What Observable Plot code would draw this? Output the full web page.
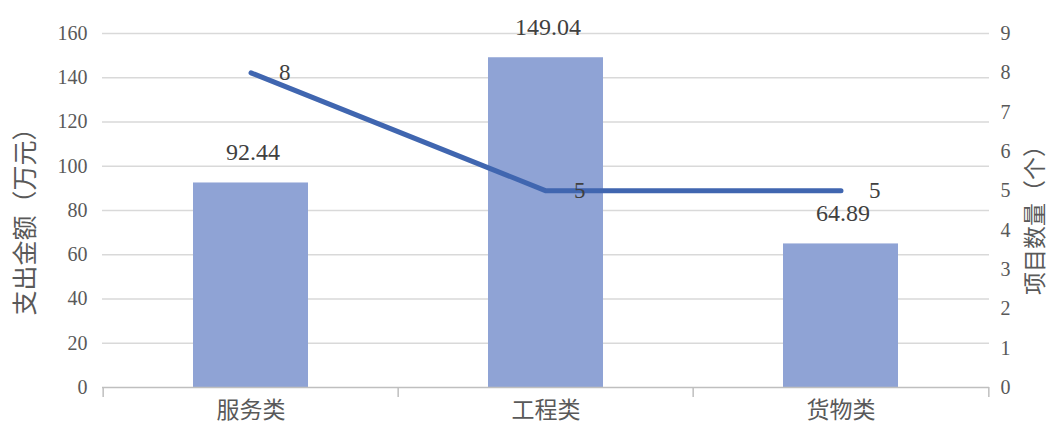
<!DOCTYPE html>
<html><head><meta charset="utf-8">
<script src="https://cdn.jsdelivr.net/npm/d3@7"></script>
<script src="https://cdn.jsdelivr.net/npm/@observablehq/plot@0.6"></script>
<style>body{margin:0;background:#fff}</style>
</head><body><div id="chart"></div>
<script>
const categories = ["服务类", "工程类", "货物类"];
const amounts = [92.44, 149.04, 64.89];
const amountLabels = ["92.44", "149.04", "64.89"];
const counts = [8, 5, 5];
const leftTicks = [0, 20, 40, 60, 80, 100, 120, 140, 160];
const rightTicks = [0, 1, 2, 3, 4, 5, 6, 7, 8, 9];
const leftTitle = "支出金额（万元）";
const rightTitle = "项目数量（个）";

const W = 1050, H = 430, mL = 102, mR = 61, mT = 33, mB = 43;
const leftMax = 160, rightMax = 9, ratio = leftMax / rightMax;
const step = (W - mL - mR) / categories.length;

const rows = categories.map((c, i) => ({cat: c, amount: amounts[i], label: amountLabels[i], count: counts[i], countScaled: counts[i] * ratio}));

const serif = "'Liberation Serif','Noto Sans CJK SC',serif";
const cjk = "'Noto Sans CJK SC',sans-serif";
const textColor = "#595959";

const chart = Plot.plot({
  width: W, height: H,
  marginLeft: mL, marginRight: mR, marginTop: mT, marginBottom: mB,
  style: {fontFamily: serif, fontSize: "20px", color: textColor, background: "#fff"},
  x: {domain: categories, paddingInner: 0.61, paddingOuter: 0.305, label: null},
  y: {domain: [0, leftMax], label: null},
  marks: [
    Plot.gridY(leftTicks.filter(d => d > 0), {stroke: "#d9d9d9", strokeOpacity: 1, strokeWidth: 1.5}),
    Plot.axisY(leftTicks, {anchor: "left", tickSize: 0, tickPadding: 15, label: null, fontSize: 20, fill: textColor}),
    Plot.axisY(rightTicks.map(d => d * ratio), {anchor: "right", tickSize: 0, tickPadding: 11, label: null, tickFormat: d => String(Math.round(d / ratio)), fontSize: 20, fill: textColor}),
    Plot.axisX({tickSize: 0, tickPadding: 14, label: null, fontSize: 23, fill: textColor, fontFamily: cjk}),
    Plot.barY(rows, {x: "cat", y: "amount", fill: "#8fa3d5"}),
    Plot.ruleY([0], {stroke: "#bfbfbf", strokeWidth: 1.5}),
    Plot.ruleX(rows, {x: "cat", dx: -step / 2, y1: 0, y2: 0, insetBottom: -10, stroke: "#bfbfbf", strokeWidth: 1.5}),
    Plot.ruleX(rows.slice(-1), {x: "cat", dx: step / 2, y1: 0, y2: 0, insetBottom: -10, stroke: "#bfbfbf", strokeWidth: 1.5}),
    Plot.lineY(rows, {x: "cat", y: "countScaled", stroke: "#4066b0", strokeWidth: 5, strokeLinecap: "round", strokeLinejoin: "round"}),
    Plot.text(rows, {x: "cat", y: "amount", text: "label", dx: 2, dy: -23, lineAnchor: "bottom", fontSize: 24, fill: "#404040", style: "letter-spacing:6px"}),
    Plot.text(rows, {x: "cat", y: "countScaled", text: d => String(d.count), dx: 28, textAnchor: "start", fontSize: 23, fill: "#404040"}),
    Plot.text([leftTitle], {frameAnchor: "left", textAnchor: "middle", dx: -77, dy: 5, rotate: -90, fontSize: 25, fill: textColor, fontFamily: cjk}),
    Plot.text([rightTitle], {frameAnchor: "right", textAnchor: "middle", dx: 46, dy: 4, rotate: -90, fontSize: 23, fill: textColor, fontFamily: cjk})
  ]
});
document.getElementById("chart").appendChild(chart);
</script>
</body></html>
